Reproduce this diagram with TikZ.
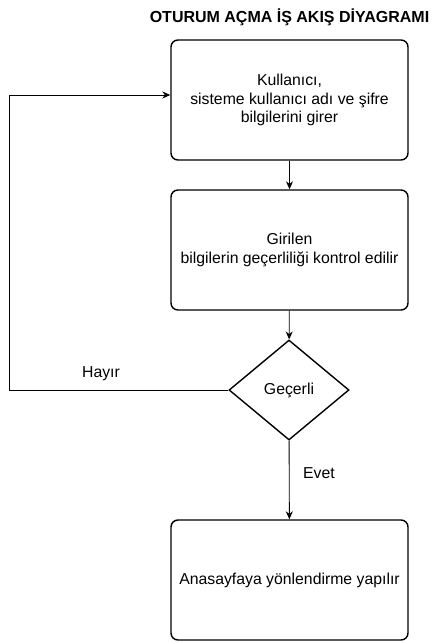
\documentclass[tikz,border=0pt]{standalone}
\usepackage{fontspec}
\setmainfont{Liberation Sans}
\usetikzlibrary{shapes.geometric,arrows.meta}
\begin{document}
\begin{tikzpicture}[x=1pt,y=-1pt,
  box/.style={draw,line width=1.4pt,rounded corners=7pt,minimum width=237pt,minimum height=120pt,align=center,font=\fontsize{15.8}{18.3}\selectfont,inner sep=0pt},
  dec/.style={draw,line width=1.4pt,diamond,minimum width=120pt,minimum height=100pt,inner sep=0pt,font=\fontsize{15.8}{18}\selectfont},
  conn/.style={line width=0.9pt,-{Stealth[length=8pt,width=7pt]}},
  lbl/.style={font=\fontsize{15.8}{18}\selectfont}]
\useasboundingbox (0,0) rectangle (440,642);
\node[font=\bfseries\fontsize{16}{18}\selectfont] (title) at (289.5,17) {OTURUM AÇMA İŞ AKIŞ DİYAGRAMI};
\node[box] (b1) at (289.5,100) {Kullanıcı,\\sisteme kullanıcı adı ve şifre\\bilgilerini girer};
\node[box] (b2) at (289.5,250) {Girilen\\bilgilerin geçerliliği kontrol edilir};
\node[dec] (d) at (289,390) {Geçerli};
\node[box] (b3) at (289.5,580) {Anasayfaya yönlendirme yapılır};
\coordinate (c1) at (9,390);
\coordinate (c2) at (9,95);
\draw[conn] (b1) -- (b2);
\draw[conn] (b2) -- (d);
\draw[conn] (d) -- (b3);
\draw[conn] (d.west) -- (c1) -- (c2) -- (b1.west |- c2);
\node[lbl] (hayir) at (101,374) {Hayır};
\node[lbl] (evet) at (319,473) {Evet};
\end{tikzpicture}
\end{document}
